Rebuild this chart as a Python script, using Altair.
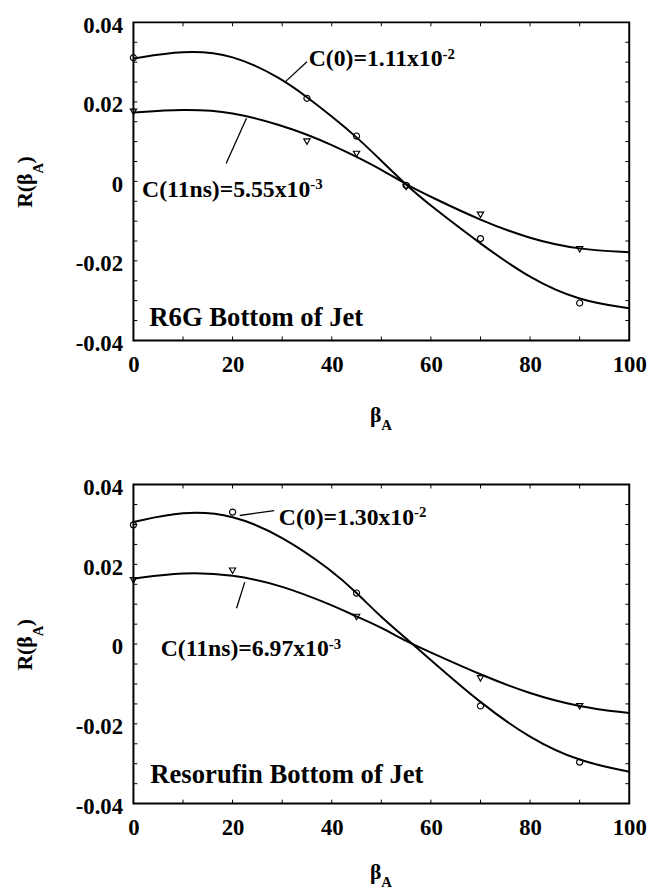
import altair as alt
import pandas as pd

FONT = "Liberation Serif"

# ---------------- R6G panel (top) ----------------
r6g_curve_beta = [0, 10, 20, 30, 35, 40, 45, 50, 55, 60, 70, 80, 90, 100]
r6g_curve_c0 = [0.0309, 0.0330, 0.0321, 0.0258, 0.0212, 0.0164, 0.0112, 0.0052, -0.0009,
                -0.0062, -0.0157, -0.0245, -0.0301, -0.0319]
r6g_curve_c11 = [0.0173, 0.0182, 0.0176, 0.0140, 0.0118, 0.0092, 0.0062, 0.0030, -0.0008,
                 -0.0039, -0.0098, -0.0145, -0.0172, -0.0178]
r6g_pts_beta = [0, 35, 45, 55, 70, 90]
r6g_pts_c0 = [0.0311, 0.0209, 0.0114, -0.0010, -0.0144, -0.0306]
r6g_pts_c11 = [0.0175, 0.0100, 0.0069, -0.0014, -0.0084, -0.0171]

# ---------------- Resorufin panel (bottom) ----------------
res_curve_beta = [0, 10, 20, 30, 40, 45, 50, 55, 60, 70, 80, 90, 100]
res_curve_c0 = [0.0306, 0.0334, 0.0326, 0.0271, 0.0185, 0.0129, 0.0067, 0.0014, -0.0040,
                -0.0148, -0.0237, -0.0295, -0.0320]
res_curve_c11 = [0.0164, 0.0181, 0.0175, 0.0147, 0.0098, 0.0069, 0.0042, 0.0007, -0.0021,
                 -0.0077, -0.0125, -0.0158, -0.0173]
res_pts_beta = [0, 20, 45, 70, 90]
res_pts_c0 = [0.0299, 0.0331, 0.0128, -0.0155, -0.0296]
res_pts_c11 = [0.0160, 0.0184, 0.0068, -0.0086, -0.0156]

# annotations: (main text, superscript, beta at end of main text, R at baseline)
r6g_labels = [("C(0)=1.11x10", "-2", 62.35, 0.0289),
              ("C(11ns)=5.55x10", "-3", 35.66, -0.0040)]
r6g_leaders = [(30.5, 0.0249, 35.0, 0.0301), (18.7, 0.0045, 22.8, 0.0159)]
r6g_title = ("R6G Bottom of Jet", 3.2, -0.0363)

res_labels = [("C(0)=1.30x10", "-2", 56.6, 0.0298),
              ("C(11ns)=6.97x10", "-3", 39.4, -0.0031)]
res_leaders = [(21.45, 0.03225, 28.4, 0.0335), (20.8, 0.0090, 22.45, 0.01555)]
res_title = ("Resorufin Bottom of Jet", 3.4, -0.0348)

x_tick_labels = [0, 20, 40, 60, 80, 100]
y_tick_labels = [-0.04, -0.02, 0, 0.02, 0.04]
x_minor = [10, 20, 30, 40, 50, 60, 70, 80, 90]
y_minor = [-0.035, -0.03, -0.025, -0.02, -0.015, -0.01, -0.005, 0, 0.005, 0.01, 0.015,
           0.02, 0.025, 0.03, 0.035]

W = 502


def panel(cb, c0, c11, pb, p0, p11, labels, leaders, title, H, xt_beta, xt_sub):
    xs = alt.Scale(domain=[0, 100], nice=False, zero=False)
    ys = alt.Scale(domain=[-0.04, 0.04], nice=False, zero=False)
    xaxis = alt.Axis(values=x_tick_labels, format="d", title=None, grid=False, domain=False,
                     tickSize=0, labelPadding=13, labelFlush=False)
    yaxis = alt.Axis(values=y_tick_labels, title=None, grid=False, domain=False, tickSize=0,
                     labelPadding=11, labelOffset=3, labelFlush=False,
                     labelExpr="datum.value == 0 ? '0' : (datum.value < 0 ? '-' : '') + format(abs(datum.value), '.2f')")

    def X(f="beta"):
        return alt.X(f + ":Q", scale=xs, axis=xaxis)

    def Y(f="R"):
        return alt.Y(f + ":Q", scale=ys, axis=yaxis)

    n = len(cb)
    curves = pd.DataFrame({"beta": cb + cb, "R": c0 + c11, "s": ["c0"] * n + ["c11"] * n})
    lines = alt.Chart(curves).mark_line(color="black", strokeWidth=2, interpolate="basis").encode(
        x=X(), y=Y(), detail="s:N")

    circ = alt.Chart(pd.DataFrame({"beta": pb, "R": p0})).mark_point(
        shape="circle", filled=False, color="black", size=38, strokeWidth=1.2, opacity=1).encode(x=X(), y=Y())
    tri = alt.Chart(pd.DataFrame({"beta": pb, "R": p11})).mark_point(
        shape="triangle-down", filled=False, color="black", size=40, strokeWidth=1.2, opacity=1).encode(x=X(), y=Y())

    lab = pd.DataFrame({"t": [l[0] for l in labels], "s": [l[1] for l in labels],
                        "beta": [l[2] for l in labels], "R": [l[3] for l in labels]})
    main_txt = alt.Chart(lab).mark_text(font=FONT, fontWeight="bold", fontSize=24, align="right",
                                        baseline="alphabetic", color="black").encode(x=X(), y=Y(), text="t:N")
    sup_txt = alt.Chart(lab).mark_text(font=FONT, fontWeight="bold", fontSize=15, align="left",
                                       baseline="alphabetic", dy=-8, color="black").encode(x=X(), y=Y(), text="s:N")

    ld = pd.DataFrame({"beta": [l[0] for l in leaders], "R": [l[1] for l in leaders],
                       "beta2": [l[2] for l in leaders], "R2": [l[3] for l in leaders]})
    lead = alt.Chart(ld).mark_rule(color="black", strokeWidth=1.3).encode(
        x=X(), y=Y(), x2="beta2:Q", y2="R2:Q")

    tt = alt.Chart(pd.DataFrame({"t": [title[0]], "beta": [title[1]], "R": [title[2]]})).mark_text(
        font=FONT, fontWeight="bold", fontSize=27, align="left", baseline="alphabetic", color="black").encode(
        x=X(), y=Y(), text="t:N")

    # inward minor ticks on all four sides
    xm = pd.DataFrame({"beta": x_minor})
    ym = pd.DataFrame({"R": y_minor})
    tb = alt.Chart(xm).mark_rule(color="black", strokeWidth=1).encode(x=X(), y=alt.value(H), y2=alt.value(H - 4))
    tt2 = alt.Chart(xm).mark_rule(color="black", strokeWidth=1).encode(x=X(), y=alt.value(0), y2=alt.value(4))
    tl = alt.Chart(ym).mark_rule(color="black", strokeWidth=1).encode(y=Y(), x=alt.value(0), x2=alt.value(4))
    tr = alt.Chart(ym).mark_rule(color="black", strokeWidth=1).encode(y=Y(), x=alt.value(W), x2=alt.value(W - 4))

    # axis titles with subscripts
    def txt(s, size, align, x, y, angle=None):
        kw = dict(font=FONT, fontWeight="bold", fontSize=size, align=align, baseline="alphabetic", color="black")
        if angle is not None:
            kw["angle"] = angle
        return alt.Chart(pd.DataFrame({"t": [s]})).mark_text(**kw).encode(
            text="t:N", x=alt.value(x), y=alt.value(y))

    ya = H / 2 - 8
    ytitle = [txt("R(β", 22, "right", -103, ya, 270),
              txt("A", 15, "left", -92, ya, 270),
              txt(")", 22, "left", -103, ya - 10, 270)]
    xtitle = [txt("β", 22, "right", W / 2, H + xt_beta),
              txt("A", 15, "left", W / 2, H + xt_sub)]

    return alt.layer(lines, circ, tri, lead, main_txt, sup_txt, tt, tb, tt2, tl, tr, *ytitle, *xtitle).properties(
        width=W, height=H)


top = panel(r6g_curve_beta, r6g_curve_c0, r6g_curve_c11, r6g_pts_beta, r6g_pts_c0, r6g_pts_c11,
            r6g_labels, r6g_leaders, r6g_title, 322, 83, 91)
bot = panel(res_curve_beta, res_curve_c0, res_curve_c11, res_pts_beta, res_pts_c0, res_pts_c11,
            res_labels, res_leaders, res_title, 323, 76, 84)

chart = alt.vconcat(top, bot, spacing=42).properties(
    padding={"left": 5, "top": 0, "right": 0, "bottom": 0}
).configure_axis(
    labelFont=FONT, labelFontWeight="bold", labelFontSize=23, labelColor="black"
).configure_view(stroke="black", strokeWidth=2)

chart.save("out.html", embed_options={"renderer": "svg", "actions": False})
